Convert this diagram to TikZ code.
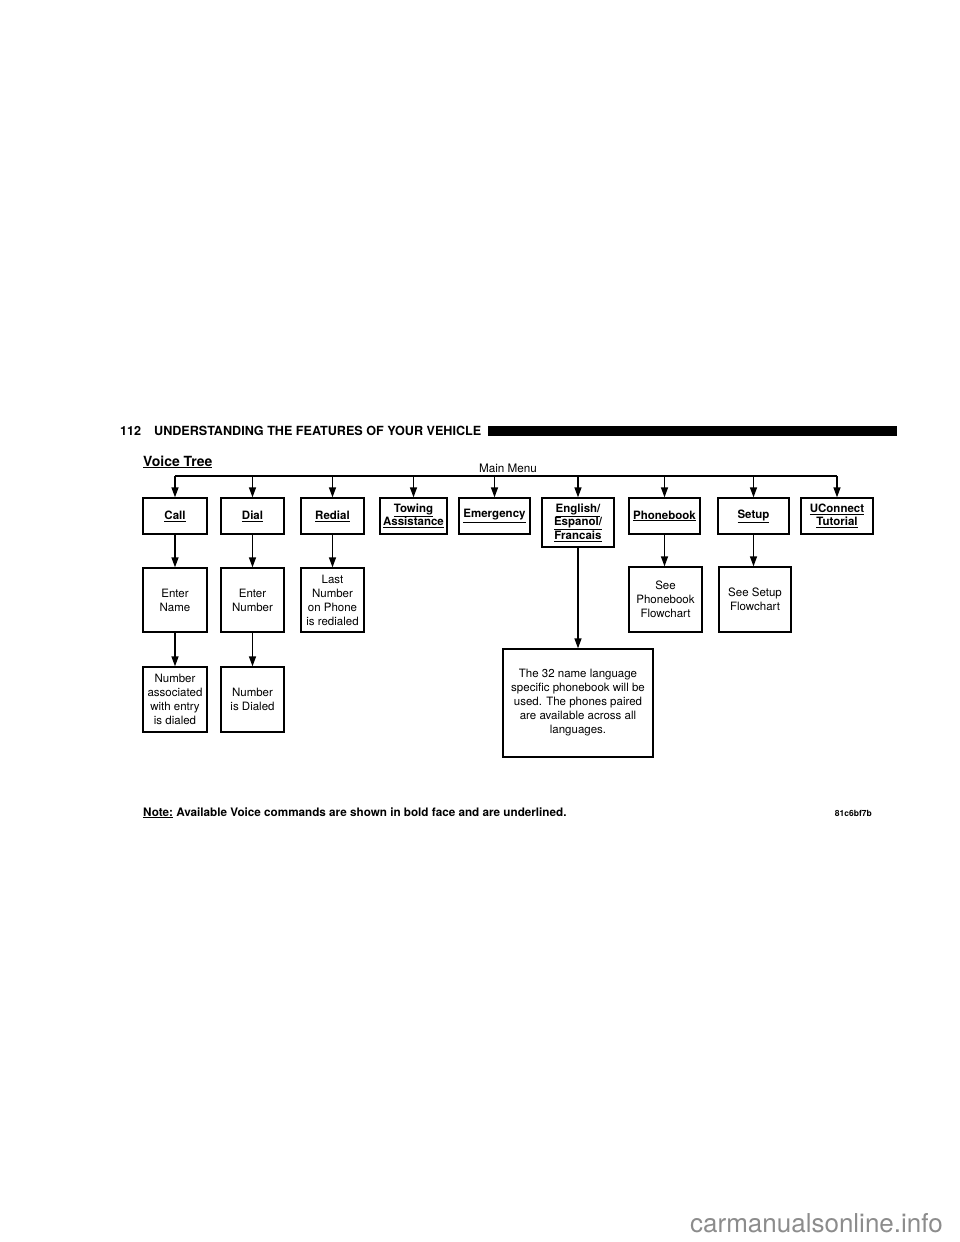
\documentclass[tikz,border=0pt]{standalone}
\usepackage{fontspec}
\setmainfont{TeX Gyre Heros}
\usetikzlibrary{arrows.meta,calc,positioning}
\begin{document}
\begin{tikzpicture}[x=1pt,y=-1pt]
    \useasboundingbox (0,0) rectangle (960,1242);
    \tikzset{CmdStyle/.style = {draw,
        line width = 1.3pt,
        inner sep  = 0pt,
        align      = center,
        font       = \fontsize{11.5}{13.5}\selectfont\bfseries},
      InfoStyle/.style = {draw,
        line width = 1.3pt,
        inner sep  = 0pt,
        align      = center,
        font       = \fontsize{11.5}{14}\selectfont},
      TextStyle/.style = {inner sep=0pt},
      EdgeStyle/.style = {line width=1.3pt, -{Triangle[length=10pt,width=7pt]}}}
    % header
    \node[TextStyle,anchor=base west,font=\fontsize{12.6}{15}\selectfont\bfseries] (PageNo) at (120,435) {112};
    \node[TextStyle,anchor=base west,font=\fontsize{12.6}{15}\selectfont\bfseries] (PageTitle) at (154,435) {UNDERSTANDING THE FEATURES OF YOUR VEHICLE};
    \fill (488,426) rectangle (897,436);
    \node[TextStyle,anchor=base west,font=\fontsize{14}{16}\selectfont\bfseries] (Title) at (143,466) {\underline{Voice Tree}};
    \node[TextStyle,anchor=base,font=\fontsize{11.7}{14}\selectfont] (MainMenu) at (508,472) {Main Menu};
    % commands
    \node[CmdStyle,minimum width=64pt,minimum height=36pt] (Call) at (175,516) {\underline{Call}};
    \node[CmdStyle,minimum width=63pt,minimum height=36pt] (Dial) at (252.5,516) {\underline{Dial}};
    \node[CmdStyle,minimum width=63pt,minimum height=36pt] (Redial) at (332.5,516) {\underline{Redial}};
    \node[CmdStyle,minimum width=67pt,minimum height=36pt] (Towing) at (413.5,516) {\underline{Towing}\\\underline{Assistance}};
    \node[CmdStyle,minimum width=71pt,minimum height=36pt] (Emergency) at (494.5,516) {\underline{Emergency}};
    \node[CmdStyle,minimum width=72pt,minimum height=49pt] (Language) at (578,522.5) {\underline{English/}\\\underline{Espanol/}\\\underline{Francais}};
    \node[CmdStyle,minimum width=71pt,minimum height=36pt] (Phonebook) at (664.5,516) {\underline{Phonebook}};
    \node[CmdStyle,minimum width=71pt,minimum height=36pt] (Setup) at (753.5,516) {\underline{Setup}};
    \node[CmdStyle,minimum width=72pt,minimum height=36pt] (UConnect) at (837,516) {\underline{UConnect}\\\underline{Tutorial}};
    % results
    \node[InfoStyle,minimum width=64pt,minimum height=64pt] (EnterName) at (175,600) {Enter\\Name};
    \node[InfoStyle,minimum width=63pt,minimum height=64pt] (EnterNumber) at (252.5,600) {Enter\\Number};
    \node[InfoStyle,minimum width=63pt,minimum height=64pt] (LastNumber) at (332.5,600) {Last\\Number\\on Phone\\is redialed};
    \node[InfoStyle,minimum width=73pt,minimum height=65pt] (SeePhonebook) at (665.5,599.5) {See\\Phonebook\\Flowchart};
    \node[InfoStyle,minimum width=72pt,minimum height=65pt] (SeeSetup) at (755,599.5) {See Setup\\Flowchart};
    \node[InfoStyle,minimum width=64pt,minimum height=65pt] (NameDialed) at (175,699.5) {Number\\associated\\with entry\\is dialed};
    \node[InfoStyle,minimum width=63pt,minimum height=65pt] (NumberDialed) at (252.5,699.5) {Number\\is Dialed};
    \node[InfoStyle,minimum width=150pt,minimum height=108pt] (LangInfo) at (578,703) {The 32 name language\\specific phonebook will be\\used. The phones paired\\are available across all\\languages.};
    % connectors
    \coordinate (Trunk) at (0,476);
    \draw[line width=1.3pt] (Trunk -| Call) -- (Trunk -| UConnect);
    \foreach \n in {Call,Dial,Redial,Towing,Emergency,Language,Phonebook,Setup,UConnect}
      \draw[EdgeStyle] (Trunk -| \n) -- (\n);
    \draw[EdgeStyle] (Call) -- (EnterName);
    \draw[EdgeStyle] (EnterName) -- (NameDialed);
    \draw[EdgeStyle] (Dial) -- (EnterNumber);
    \draw[EdgeStyle] (EnterNumber) -- (NumberDialed);
    \draw[EdgeStyle] (Redial) -- (LastNumber);
    \draw[EdgeStyle] (Phonebook.south) -- (Phonebook.south |- SeePhonebook.north);
    \draw[EdgeStyle] (Setup.south) -- (Setup.south |- SeeSetup.north);
    \draw[EdgeStyle] (Language) -- (LangInfo);
    % footer
    \node[TextStyle,anchor=base west,font=\fontsize{11.7}{14}\selectfont\bfseries] (Note) at (143,816) {\underline{Note:} Available Voice commands are shown in bold face and are underlined.};
    \node[TextStyle,anchor=base east,font=\fontsize{8.5}{10}\selectfont\bfseries] (FigCode) at (872,816) {81c6bf7b};
    \node[TextStyle,anchor=base east,text=black!45,font=\fontsize{26}{30}\selectfont] (Watermark) at (943,1232) {carmanualsonline.info};
  \end{tikzpicture}
\end{document}
